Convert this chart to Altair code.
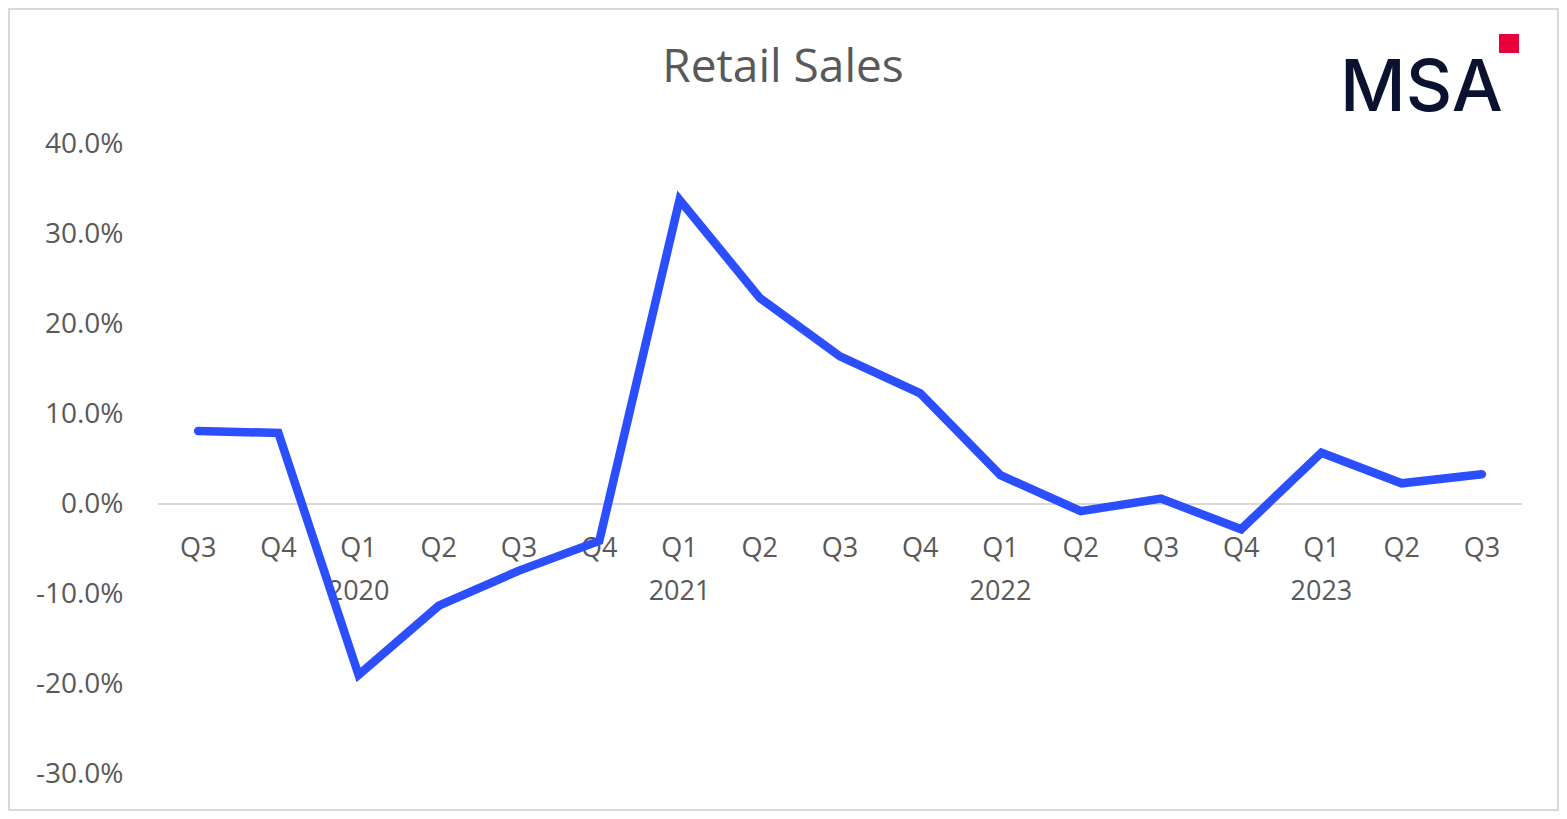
import altair as alt
import pandas as pd

quarters = ["Q3", "Q4", "Q1", "Q2", "Q3", "Q4", "Q1", "Q2", "Q3", "Q4",
            "Q1", "Q2", "Q3", "Q4", "Q1", "Q2", "Q3"]
years = [2019, 2019, 2020, 2020, 2020, 2020, 2021, 2021, 2021, 2021,
         2022, 2022, 2022, 2022, 2023, 2023, 2023]
values = [8.1, 7.9, -19.0, -11.3, -7.4, -4.1, 33.8, 22.9, 16.4, 12.3,
          3.2, -0.8, 0.6, -2.8, 5.7, 2.3, 3.3]
year_labels = ["2020", "2021", "2022", "2023"]

keys = [f"{y} {q}" for y, q in zip(years, quarters)]
df = pd.DataFrame({"key": keys, "quarter": quarters, "year": years,
                   "value": [v / 100 for v in values]})
year_df = pd.DataFrame({"key": [f"{y} Q1" for y in year_labels], "label": year_labels})

FONT = "Open Sans"
GRAY = "#595959"

xenc = alt.X("key:O", sort=keys, axis=None,
             scale=alt.Scale(type="point", padding=0.5))
yscale = alt.Scale(domain=[-0.3, 0.4], nice=False, zero=False)

base = alt.Chart(df)

line = base.mark_line(color="#2B4EFF", strokeWidth=8.5, strokeCap="round",
                      strokeJoin="miter").encode(
    x=xenc,
    y=alt.Y("value:Q", scale=yscale,
            axis=alt.Axis(values=[-0.3, -0.2, -0.1, 0, 0.1, 0.2, 0.3, 0.4],
                          labelExpr="replace(format(datum.value, '.1%'), '\u2212', '-')",
                          grid=False, domain=False, ticks=False, title=None,
                          labelFont=FONT, labelFontSize=28, labelColor=GRAY,
                          labelPadding=35)),
)

zero = alt.Chart(pd.DataFrame({"z": [0]})).mark_rule(color="#D9D9D9", strokeWidth=2).encode(
    y=alt.Y("z:Q", scale=yscale), x=alt.value(0), x2=alt.value(1364))

qlabels = base.mark_text(font=FONT, fontSize=27, color=GRAY, baseline="middle",
                         dy=45).encode(
    x=xenc, y=alt.datum(0), text="quarter:N")

ylabels = alt.Chart(year_df).mark_text(font=FONT, fontSize=27, color=GRAY,
                                       baseline="middle", dy=88).encode(
    x=alt.X("key:O", sort=keys, axis=None, scale=alt.Scale(type="point", padding=0.5)),
    y=alt.datum(0), text="label:N")

title = alt.Chart(pd.DataFrame({"t": ["Retail Sales"]})).mark_text(
    font=FONT, fontSize=46, color=GRAY, baseline="alphabetic", align="center").encode(
    x=alt.value(625), y=alt.value(-62), text="t:N")

logo = alt.Chart(pd.DataFrame({"t": ["MSA"]})).mark_text(
    font="Inter", fontSize=72, fontWeight=500, color="#0B1230", baseline="alphabetic",
    align="left").encode(
    x=alt.value(1182), y=alt.value(-33), text="t:N")

square = alt.Chart(pd.DataFrame({"t": [1]})).mark_rect(color="#E8003D").encode(
    x=alt.value(1341), x2=alt.value(1361), y=alt.value(-110), y2=alt.value(-91))

border = alt.Chart(pd.DataFrame({"t": [1]})).mark_rect(
    fill=None, stroke="#D9D9D9", strokeWidth=2).encode(
    x=alt.value(-149), x2=alt.value(1400), y=alt.value(-135), y2=alt.value(666))

chart = alt.layer(border, zero, qlabels, ylabels, line, title, logo, square).properties(
    width=1364, height=630,
    background="white",
    autosize=alt.AutoSizeParams(type="none"),
    padding={"left": 150, "top": 136, "right": 37, "bottom": 37},
).configure_view(strokeWidth=0)

chart.save("out.html", embed_options={"renderer": "svg", "actions": False})
